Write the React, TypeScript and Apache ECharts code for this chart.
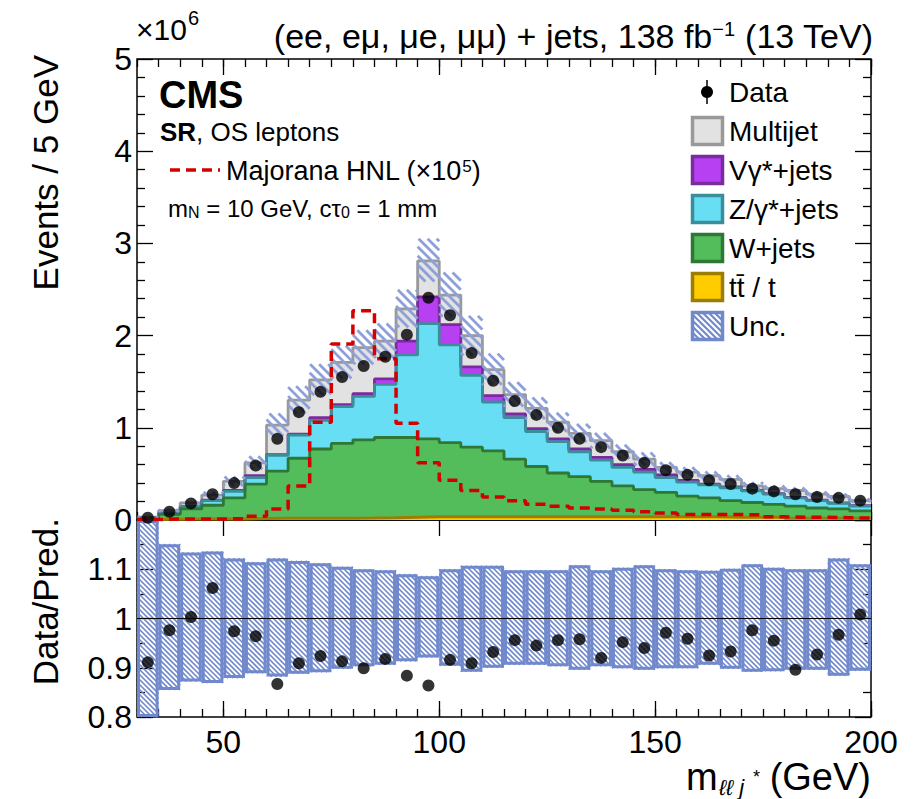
import React, { useEffect, useRef } from "react";
import * as echarts from "echarts";

// ---------- data (events in units of 10^6, 5 GeV bins) ----------
const binLow = [30, 35, 40, 45, 50, 55, 60, 65, 70, 75, 80, 85, 90, 95, 100, 105, 110, 115, 120, 125, 130, 135, 140, 145, 150, 155, 160, 165, 170, 175, 180, 185, 190, 195];
const BIN_WIDTH = 5;
const xMajorTicks = [50, 100, 150, 200];

const ttValues = [0.005, 0.008, 0.01, 0.01, 0.012, 0.015, 0.02, 0.02, 0.02, 0.02, 0.022, 0.025, 0.03, 0.035, 0.035, 0.035, 0.035, 0.035, 0.035, 0.035, 0.035, 0.035, 0.035, 0.035, 0.035, 0.035, 0.035, 0.03, 0.03, 0.03, 0.02, 0.02, 0.02, 0.02];
const wjetsValues = [0.015, 0.052, 0.11, 0.15, 0.228, 0.375, 0.51, 0.65, 0.75, 0.81, 0.848, 0.87, 0.865, 0.845, 0.805, 0.755, 0.715, 0.625, 0.545, 0.475, 0.435, 0.385, 0.335, 0.295, 0.265, 0.225, 0.205, 0.18, 0.16, 0.14, 0.13, 0.11, 0.1, 0.08];
const zjetsValues = [0.003, 0.01, 0.02, 0.05, 0.07, 0.07, 0.17, 0.25, 0.31, 0.4, 0.47, 0.575, 0.895, 1.25, 1.06, 0.78, 0.53, 0.45, 0.38, 0.34, 0.27, 0.23, 0.2, 0.19, 0.16, 0.15, 0.14, 0.14, 0.125, 0.11, 0.09, 0.08, 0.06, 0.05];
const vgammaValues = [0.001, 0.002, 0.005, 0.005, 0.01, 0.02, 0.01, 0.01, 0.03, 0.02, 0.03, 0.06, 0.15, 0.29, 0.22, 0.09, 0.07, 0.04, 0.03, 0.03, 0.03, 0.03, 0.03, 0.03, 0.03, 0.02, 0.01, 0.01, 0.005, 0.005, 0.005, 0.005, 0.005, 0.005];
const multijetValues = [0.008, 0.03, 0.04, 0.055, 0.1, 0.14, 0.32, 0.37, 0.41, 0.46, 0.5, 0.41, 0.35, 0.39, 0.32, 0.34, 0.28, 0.21, 0.22, 0.18, 0.17, 0.18, 0.14, 0.11, 0.08, 0.09, 0.09, 0.08, 0.05, 0.055, 0.075, 0.065, 0.07, 0.055];
const dataValues = [0.025, 0.09, 0.18, 0.28, 0.4, 0.59, 0.88, 1.17, 1.39, 1.55, 1.67, 1.77, 2.01, 2.41, 2.22, 1.81, 1.51, 1.29, 1.14, 1.0, 0.88, 0.79, 0.7, 0.62, 0.54, 0.49, 0.43, 0.39, 0.34, 0.31, 0.28, 0.25, 0.24, 0.21];
const signalValues = [0.005, 0.01, 0.01, 0.01, 0.015, 0.04, 0.12, 0.37, 1.06, 1.91, 2.27, 1.75, 1.05, 0.62, 0.43, 0.32, 0.25, 0.21, 0.17, 0.15, 0.13, 0.12, 0.105, 0.09, 0.076, 0.06, 0.06, 0.06, 0.055, 0.035, 0.03, 0.03, 0.025, 0.02];
const ratioValues = [0.911, 0.976, 1.003, 1.062, 0.974, 0.964, 0.867, 0.909, 0.924, 0.913, 0.899, 0.918, 0.884, 0.864, 0.916, 0.909, 0.932, 0.956, 0.945, 0.956, 0.958, 0.92, 0.952, 0.94, 0.971, 0.959, 0.925, 0.933, 0.976, 0.955, 0.896, 0.927, 0.967, 1.008];
const uncHigh = [1.25, 1.151, 1.134, 1.136, 1.122, 1.114, 1.122, 1.117, 1.112, 1.105, 1.1, 1.098, 1.09, 1.086, 1.1, 1.107, 1.107, 1.098, 1.098, 1.098, 1.108, 1.098, 1.103, 1.108, 1.1, 1.098, 1.097, 1.101, 1.11, 1.103, 1.1, 1.1, 1.122, 1.11];
const uncLow = [0.75, 0.855, 0.872, 0.869, 0.879, 0.889, 0.882, 0.888, 0.891, 0.898, 0.903, 0.906, 0.913, 0.921, 0.904, 0.892, 0.9, 0.906, 0.906, 0.903, 0.896, 0.903, 0.899, 0.896, 0.899, 0.899, 0.906, 0.898, 0.892, 0.893, 0.896, 0.896, 0.884, 0.894];

const FONT = '"Liberation Sans", Arial, Helvetica, sans-serif';
const UNC_BLUE = "#7088cc";

// bottom to top of the stack
const stackDefs = [
  { name: "tt", values: ttValues, fill: "#ffcc00", line: "#9b7d00", lw: 3 },
  { name: "W+jets", values: wjetsValues, fill: "#53bd5c", line: "#2f7735", lw: 2.8 },
  { name: "Z+jets", values: zjetsValues, fill: "#67def3", line: "#3b8e99", lw: 2.8 },
  { name: "Vgamma", values: vgammaValues, fill: "#b640f2", line: "#7a2b9d", lw: 2.8 },
  { name: "Multijet", values: multijetValues, fill: "#e2e2e2", line: "#999999", lw: 2.8 },
];

function stepData(vals: number[]) {
  const d = binLow.map((x, i) => [x, vals[i]]);
  d.push([binLow[binLow.length - 1] + BIN_WIDTH, vals[vals.length - 1]]);
  return d;
}

function hatchLines(L: number, T: number, R: number, B: number, s: number, stroke: string, w: number) {
  const out: any[] = [];
  if (R <= L || B <= T) return out;
  const cStart = Math.ceil((T - R) / s) * s;
  for (let c = cStart; c <= B - L; c += s) {
    const xs = Math.max(L, T - c);
    const xe = Math.min(R, B - c);
    if (xe - xs > 0.6) {
      out.push({ type: "line", shape: { x1: xs, y1: xs + c, x2: xe, y2: xe + c }, style: { stroke, lineWidth: w } });
    }
  }
  return out;
}

function makeBandRender(opts: { spacing: number; width: number; color: string; outline?: string; outlineWidth?: number }) {
  return (params: any, api: any) => {
    const x0 = api.value(0), x1 = api.value(1), lo = api.value(2), hi = api.value(3);
    const a = api.coord([x0, hi]);
    const b = api.coord([x1, lo]);
    const cs = params.coordSys;
    const L = a[0], R = b[0];
    const T = Math.max(a[1], cs.y);
    const B = Math.min(b[1], cs.y + cs.height);
    const children: any[] = hatchLines(L, T, R, B, opts.spacing, opts.color, opts.width);
    if (opts.outline) {
      const ow = opts.outlineWidth || 3;
      children.push({
        type: "rect",
        shape: { x: L + ow / 2, y: T + ow / 2, width: R - L - ow, height: B - T - ow },
        style: { fill: "none", stroke: opts.outline, lineWidth: ow },
      });
    }
    return { type: "group", children };
  };
}

export default function App() {
  const ref = useRef<HTMLDivElement>(null);

  useEffect(() => {
    if (!ref.current) return;
    const chart = echarts.init(ref.current, undefined, { renderer: "svg" });

    // cumulative tops of the stack
    const cumulative: number[][] = [];
    stackDefs.forEach((d, k) => {
      cumulative.push(d.values.map((v, i) => v + (k > 0 ? cumulative[k - 1][i] : 0)));
    });
    const total = cumulative[cumulative.length - 1];
    const centers = binLow.map((x) => x + BIN_WIDTH / 2);

    const tickStyle = { color: "#000", width: 1.3 };
    const xAxes: any[] = [];
    const mkX = (grid: number, position: string, kind: "minor" | "major", labels: boolean) => {
      const ax: any = {
        type: "value", gridIndex: grid, min: 30, max: 200, position,
        axisLine: { show: false }, splitLine: { show: false },
        axisLabel: { show: false },
      };
      if (kind === "minor") {
        ax.interval = 5;
        ax.axisTick = { show: true, inside: true, length: 8, lineStyle: tickStyle };
      } else {
        ax.axisTick = { show: true, inside: true, length: 16, customValues: xMajorTicks, lineStyle: tickStyle };
        if (labels) {
          ax.axisLabel = { show: true, customValues: xMajorTicks, fontFamily: FONT, fontSize: 32, color: "#000", margin: 9 };
        }
      }
      xAxes.push(ax);
    };
    mkX(0, "bottom", "minor", false);
    mkX(0, "bottom", "major", false);
    mkX(0, "top", "minor", false);
    mkX(0, "top", "major", false);
    mkX(1, "bottom", "minor", false);
    mkX(1, "bottom", "major", true);
    mkX(1, "top", "major", false);

    const yAxes: any[] = [
      {
        type: "value", gridIndex: 0, min: 0, max: 5, interval: 1, position: "left",
        axisLine: { show: false }, splitLine: { show: false },
        axisTick: { inside: true, length: 16, lineStyle: tickStyle },
        minorTick: { show: true, splitNumber: 5, length: 8, lineStyle: tickStyle },
        axisLabel: { fontFamily: FONT, fontSize: 32, color: "#000", margin: 5 },
      },
      {
        type: "value", gridIndex: 0, min: 0, max: 5, interval: 1, position: "right",
        axisLine: { show: false }, splitLine: { show: false },
        axisTick: { inside: true, length: 16, lineStyle: tickStyle },
        minorTick: { show: true, splitNumber: 5, length: 8, lineStyle: tickStyle },
        axisLabel: { show: false },
      },
      {
        type: "value", gridIndex: 1, min: 0.8, max: 1.2, interval: 0.1, position: "left",
        axisLine: { show: false }, splitLine: { show: false },
        axisTick: { inside: true, length: 16, lineStyle: tickStyle },
        minorTick: { show: true, splitNumber: 2, length: 8, lineStyle: tickStyle },
        axisLabel: {
          fontFamily: FONT, fontSize: 32, color: "#000", margin: 5,
          formatter: (v: number) => (v > 1.15 ? "" : String(Math.round(v * 10) / 10)),
        },
      },
      {
        type: "value", gridIndex: 1, min: 0.8, max: 1.2, interval: 0.1, position: "right",
        axisLine: { show: false }, splitLine: { show: false },
        axisTick: { inside: true, length: 16, lineStyle: tickStyle },
        minorTick: { show: true, splitNumber: 2, length: 8, lineStyle: tickStyle },
        axisLabel: { show: false },
      },
    ];

    const series: any[] = [];
    // draw from the top of the stack down, each area filling to zero
    for (let k = stackDefs.length - 1; k >= 0; k--) {
      const s = stackDefs[k];
      series.push({
        name: s.name, type: "line", xAxisIndex: 0, yAxisIndex: 0, step: "end",
        data: stepData(cumulative[k]), symbol: "none", showSymbol: false,
        lineStyle: { color: s.line, width: s.lw },
        areaStyle: { color: s.fill, opacity: 1, origin: "start" },
        z: 2, silent: true,
      });
    }
    series.push({
      name: "Unc.", type: "custom", xAxisIndex: 0, yAxisIndex: 0, z: 3,
      encode: { x: [0, 1], y: [2, 3] },
      data: binLow.map((x, i) => [x, x + BIN_WIDTH, total[i] * uncLow[i], total[i] * uncHigh[i]]),
      renderItem: makeBandRender({ spacing: 9, width: 2.8, color: "#8da0da" }),
      silent: true,
    });
    series.push({
      name: "Majorana HNL", type: "line", xAxisIndex: 0, yAxisIndex: 0, step: "end",
      data: stepData(signalValues), symbol: "none", showSymbol: false,
      lineStyle: { color: "#d30000", width: 3.5, type: [10, 6] },
      z: 4, silent: true,
    });
    series.push({
      name: "Data", type: "scatter", xAxisIndex: 0, yAxisIndex: 0,
      data: centers.map((c, i) => [c, dataValues[i]]),
      symbol: "circle", symbolSize: 12, itemStyle: { color: "#000" }, z: 5, silent: true,
    });
    // ratio panel
    series.push({
      name: "Unc. ratio", type: "custom", xAxisIndex: 4, yAxisIndex: 2, z: 3,
      encode: { x: [0, 1], y: [2, 3] },
      data: binLow.map((x, i) => [x, x + BIN_WIDTH, uncLow[i], uncHigh[i]]),
      renderItem: makeBandRender({ spacing: 5, width: 1.6, color: UNC_BLUE, outline: UNC_BLUE, outlineWidth: 3 }),
      silent: true,
    });
    series.push({
      name: "unity", type: "line", xAxisIndex: 4, yAxisIndex: 2,
      data: [[30, 1], [200, 1]], symbol: "none", lineStyle: { color: "#000", width: 1.2 }, z: 4, silent: true,
    });
    series.push({
      name: "Data ratio", type: "scatter", xAxisIndex: 4, yAxisIndex: 2,
      data: centers.map((c, i) => [c, ratioValues[i]]),
      symbol: "circle", symbolSize: 12, itemStyle: { color: "#000" }, z: 5, silent: true,
    });

    // legend (right)
    const legendX = 691;
    const rowY = [92, 131, 170, 209, 248, 287, 326];
    const legendTexts = ["Data", "Multijet", "Vγ*+jets", "Z/γ*+jets", "W+jets", "tt\u0304 / t", "Unc."];
    const legendBoxes = [null, stackDefs[4], stackDefs[3], stackDefs[2], stackDefs[1], stackDefs[0]];
    const graphics: any[] = [];
    graphics.push({ type: "line", shape: { x1: legendX + 16, y1: rowY[0] - 12, x2: legendX + 16, y2: rowY[0] + 12 }, style: { stroke: "#000", lineWidth: 1.5 } });
    graphics.push({ type: "circle", shape: { cx: legendX + 16, cy: rowY[0], r: 6 }, style: { fill: "#000" } });
    for (let i = 1; i <= 5; i++) {
      const d = legendBoxes[i] as any;
      graphics.push({
        type: "rect", shape: { x: legendX + 1.5, y: rowY[i] - 13.5, width: 30, height: 27 },
        style: { fill: d.fill, stroke: d.line, lineWidth: 3.5 },
      });
    }
    {
      const L = legendX, T = rowY[6] - 15, R = legendX + 33, B = rowY[6] + 15;
      graphics.push({ type: "rect", shape: { x: L, y: T, width: 33, height: 30 }, style: { fill: "#fff" } });
      hatchLines(L + 2, T + 2, R - 2, B - 2, 6, UNC_BLUE, 2.2).forEach((l) => graphics.push(l));
      graphics.push({ type: "rect", shape: { x: L + 1.5, y: T + 1.5, width: 30, height: 27 }, style: { fill: "none", stroke: UNC_BLUE, lineWidth: 3.5 } });
    }
    legendTexts.forEach((t, i) => {
      graphics.push({
        type: "text", x: 729, y: rowY[i],
        style: { text: t, font: `28px ${FONT}`, fill: "#000", align: "left", verticalAlign: "middle" },
      });
    });

    // header texts
    graphics.push({
      type: "text", x: 873, y: 36,
      style: {
        text: "{a|(ee, eμ, μe, μμ) + jets, 138 fb}{s|−1}{a| (13 TeV)}",
        align: "right", verticalAlign: "middle",
        rich: {
          a: { fontFamily: FONT, fontSize: 34, fill: "#000" },
          s: { fontFamily: FONT, fontSize: 20, fill: "#000", verticalAlign: "top" },
        },
      },
    });
    graphics.push({ type: "text", x: 136, y: 29, style: { text: "×10", font: `30px ${FONT}`, fill: "#000", align: "left", verticalAlign: "middle" } });
    graphics.push({ type: "text", x: 188, y: 18, style: { text: "6", font: `20px ${FONT}`, fill: "#000", align: "left", verticalAlign: "middle" } });

    // inner labels
    graphics.push({ type: "text", x: 159, y: 95, style: { text: "CMS", font: `bold 38px ${FONT}`, fill: "#000", align: "left", verticalAlign: "middle" } });
    graphics.push({
      type: "text", x: 160, y: 132,
      style: {
        text: "{b|SR}{n|, OS leptons}", align: "left", verticalAlign: "middle",
        rich: {
          b: { fontFamily: FONT, fontWeight: "bold", fontSize: 26, fill: "#000" },
          n: { fontFamily: FONT, fontSize: 26, fill: "#000" },
        },
      },
    });
    graphics.push({ type: "line", shape: { x1: 170, y1: 170, x2: 220, y2: 170 }, style: { stroke: "#d30000", lineWidth: 3.5, lineDash: [10, 6] } });
    graphics.push({
      type: "text", x: 226, y: 171,
      style: {
        text: "{n|Majorana HNL (×10}{s|5}{n|)}", align: "left", verticalAlign: "middle",
        rich: {
          n: { fontFamily: FONT, fontSize: 27, fill: "#000" },
          s: { fontFamily: FONT, fontSize: 17, fill: "#000", verticalAlign: "top" },
        },
      },
    });
    graphics.push({
      type: "text", x: 168, y: 208,
      style: {
        text: "{n|m}{d|N}{n| = 10 GeV, cτ}{d|0}{n| = 1 mm}", align: "left", verticalAlign: "middle",
        rich: {
          n: { fontFamily: FONT, fontSize: 24, fill: "#000" },
          d: { fontFamily: FONT, fontSize: 16, fill: "#000", verticalAlign: "bottom" },
        },
      },
    });

    // axis titles
    graphics.push({
      type: "text", x: 45, y: 55, rotation: Math.PI / 2,
      style: { text: "Events / 5 GeV", font: `35px ${FONT}`, fill: "#000", align: "right", verticalAlign: "middle" },
    });
    graphics.push({
      type: "text", x: 45, y: 518, rotation: Math.PI / 2,
      style: { text: "Data/Pred.", font: `35px ${FONT}`, fill: "#000", align: "right", verticalAlign: "middle" },
    });
    graphics.push({ type: "text", x: 871, y: 777, style: { text: "(GeV)", font: `38px ${FONT}`, fill: "#000", align: "right", verticalAlign: "middle" } });
    graphics.push({ type: "text", x: 686, y: 777, style: { text: "m", font: `38px ${FONT}`, fill: "#000", align: "left", verticalAlign: "middle" } });
    graphics.push({ type: "text", x: 719, y: 787, style: { text: "ℓℓ j", font: `italic 22px ${FONT}`, fill: "#000", align: "left", verticalAlign: "middle" } });
    graphics.push({ type: "text", x: 753, y: 777, style: { text: "*", font: `18px ${FONT}`, fill: "#000", align: "left", verticalAlign: "middle" } });

    chart.setOption({
      animation: false,
      backgroundColor: "#fff",
      grid: [
        { left: 137, top: 59, width: 734, height: 461, show: true, borderColor: "#000", borderWidth: 1.5, backgroundColor: "transparent" },
        { left: 137, top: 520, width: 734, height: 197, show: true, borderColor: "#000", borderWidth: 1.5, backgroundColor: "transparent" },
      ],
      xAxis: xAxes,
      yAxis: yAxes,
      series,
      graphic: { elements: graphics },
    });

    return () => chart.dispose();
  }, []);

  return <div ref={ref} style={{ position: "fixed", left: 0, top: 0, width: 922, height: 799, background: "#fff" }} />;
}
